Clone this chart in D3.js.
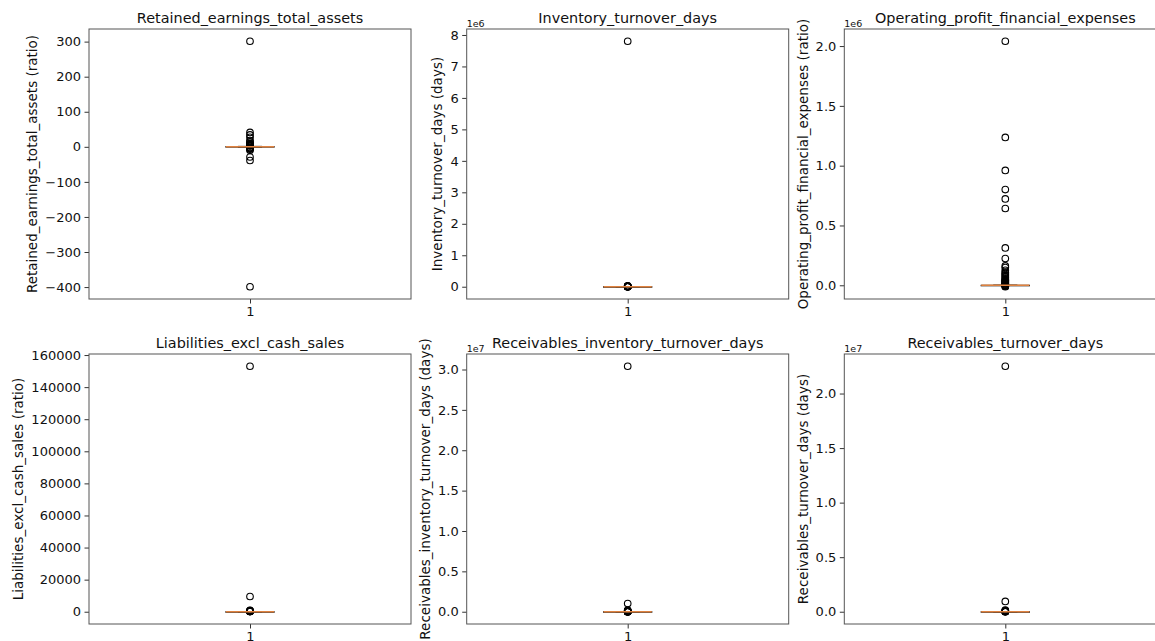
<!DOCTYPE html>
<html>
<head>
<meta charset="utf-8">
<script src="https://cdn.jsdelivr.net/npm/d3@7"></script>
<style>
  body { margin: 0; background: #fff; }
  text { font-family: "DejaVu Sans", sans-serif; fill: #111; }
</style>
</head>
<body>
<svg id="chart" width="1155" height="641"></svg>
<script>
// one entry per panel, left-to-right, top-to-bottom
const titles = ["Retained_earnings_total_assets", "Inventory_turnover_days", "Operating_profit_financial_expenses",
                "Liabilities_excl_cash_sales", "Receivables_inventory_turnover_days", "Receivables_turnover_days"];
const units = ["ratio", "days", "ratio", "ratio", "days", "days"];
const offsetLabels = ["", "1e6", "1e6", "", "1e7", "1e7"];

// box stats (q1, median, q3, whisker low, whisker high)
const q1s      = [0.1, 40, 2, 0.5, 60, 30];
const medians  = [0.3, 80, 5, 1, 120, 70];
const q3s      = [0.6, 150, 12, 2, 250, 130];
const whiskLo  = [-0.6, 0, -10, 0, 0, 0];
const whiskHi  = [1.3, 310, 27, 4.2, 530, 280];

const fliers = [
  [301, 41, 34, 27, 18, 14, 10, 8, 6, 5, 4, 3, 2.5, -2, -3.5, -5, -7, -10, -29, -39, -399],
  [7.8e6, 30000, 22000, 15000, 11000, 8000, 6000, 5000, 4000, 3000, 2000, 1500, 1000],
  [2.04e6, 1.236e6, 0.96e6, 0.80e6, 0.722e6, 0.642e6, 0.312e6, 0.223e6, 0.162e6, 0.148e6,
   0.125e6, 0.11e6, 0.1e6, 0.09e6, 0.08e6, 0.07e6, 0.06e6, 0.05e6, 0.045e6, 0.04e6, 0.035e6,
   0.03e6, 0.025e6, 0.02e6, 0.015e6, 0.01e6, 0.005e6, 2000, 500, -3000, -8000, -12000],
  [153000, 9500, 900, 700, 500, 400, 300, 250, 200, 150, 120],
  [3.04e7, 1.02e6, 2e5, 1.2e5, 8e4, 5e4, 3e4, 2e4, 1.5e4, 1e4, 8000, 6000, 4000, 3000],
  [2.25e7, 9.4e5, 1.5e5, 1e5, 6e4, 4e4, 2e4, 1e4, 5000, 3000]
];

const tickValues = [
  [-400, -300, -200, -100, 0, 100, 200, 300],
  [0, 1e6, 2e6, 3e6, 4e6, 5e6, 6e6, 7e6, 8e6],
  [0, 0.5e6, 1e6, 1.5e6, 2e6],
  [0, 20000, 40000, 60000, 80000, 100000, 120000, 140000, 160000],
  [0, 0.5e7, 1e7, 1.5e7, 2e7, 2.5e7, 3e7],
  [0, 0.5e7, 1e7, 1.5e7, 2e7]
];
const tickLabels = [
  ["\u2212400", "\u2212300", "\u2212200", "\u2212100", "0", "100", "200", "300"],
  ["0", "1", "2", "3", "4", "5", "6", "7", "8"],
  ["0.0", "0.5", "1.0", "1.5", "2.0"],
  ["0", "20000", "40000", "60000", "80000", "100000", "120000", "140000", "160000"],
  ["0.0", "0.5", "1.0", "1.5", "2.0", "2.5", "3.0"],
  ["0.0", "0.5", "1.0", "1.5", "2.0"]
];

const colX = [89, 466.7, 844.3], rowY = [29, 354];
const w = 322, h = 270;
const boxWidth = 0.15;

const svg = d3.select("#chart");

titles.forEach((title, i) => {
  const left = colX[i % 3], top = rowY[Math.floor(i / 3)];
  const g = svg.append("g").attr("transform", `translate(${left},${top})`);

  const all = fliers[i].concat([whiskLo[i], whiskHi[i]]);
  const lo = d3.min(all), hi = d3.max(all), pad = (hi - lo) * 0.05;

  const x = d3.scaleLinear().domain([0.5, 1.5]).range([0, w]);
  const y = d3.scaleLinear().domain([lo - pad, hi + pad]).range([h, 0]);

  // y axis
  const yAx = g.append("g")
    .call(d3.axisLeft(y).tickValues(tickValues[i])
      .tickFormat((d, k) => tickLabels[i][k])
      .tickSize(4.5).tickPadding(3.5).tickSizeOuter(0));
  yAx.select(".domain").remove();
  yAx.selectAll(".tick line").attr("stroke", "#333");
  yAx.selectAll(".tick text").attr("font-size", 13).attr("fill", "#111");

  // x axis
  const xAx = g.append("g").attr("transform", `translate(0,${h})`)
    .call(d3.axisBottom(x).tickValues([1]).tickFormat(d3.format("d"))
      .tickSize(4.5).tickPadding(3.5).tickSizeOuter(0));
  xAx.select(".domain").remove();
  xAx.selectAll(".tick line").attr("stroke", "#333");
  xAx.selectAll(".tick text").attr("font-size", 13).attr("fill", "#111");

  // whiskers + caps
  const cx = x(1), capHalf = (x(1 + boxWidth / 4) - x(1));
  g.append("line").attr("x1", cx).attr("x2", cx)
    .attr("y1", y(q1s[i])).attr("y2", y(whiskLo[i])).attr("stroke", "#000");
  g.append("line").attr("x1", cx).attr("x2", cx)
    .attr("y1", y(q3s[i])).attr("y2", y(whiskHi[i])).attr("stroke", "#000");
  [whiskLo[i], whiskHi[i]].forEach(v => {
    g.append("line").attr("x1", cx - capHalf).attr("x2", cx + capHalf)
      .attr("y1", y(v)).attr("y2", y(v)).attr("stroke", "#000");
  });

  // box
  const bx0 = x(1 - boxWidth / 2), bx1 = x(1 + boxWidth / 2);
  g.append("rect").attr("x", bx0).attr("width", bx1 - bx0)
    .attr("y", y(q3s[i])).attr("height", Math.max(0.5, y(q1s[i]) - y(q3s[i])))
    .attr("fill", "none").attr("stroke", "#000");

  // fliers
  g.append("g").selectAll("circle").data(fliers[i]).join("circle")
    .attr("cx", cx).attr("cy", d => y(d)).attr("r", 3.3)
    .attr("fill", "none").attr("stroke", "#000").attr("stroke-width", 1.1);

  // median
  g.append("line").attr("x1", bx0).attr("x2", bx1)
    .attr("y1", y(medians[i])).attr("y2", y(medians[i]))
    .attr("stroke", "#e0823f").attr("stroke-width", 1.6);

  // frame
  g.append("rect").attr("width", w).attr("height", h)
    .attr("fill", "none").attr("stroke", "#555").attr("stroke-width", 1);

  // title
  g.append("text").attr("x", w / 2).attr("y", -6.5).attr("text-anchor", "middle")
    .attr("font-size", 14.4).text(title);

  // offset text
  if (offsetLabels[i])
    g.append("text").attr("x", 0).attr("y", -2.5).attr("font-size", 9.5).text(offsetLabels[i]);

  // y label, placed left of the tick labels
  const bb = yAx.node().getBBox();
  g.append("text")
    .attr("transform", `translate(${bb.x - 8},${h / 2}) rotate(-90)`)
    .attr("text-anchor", "middle").attr("font-size", 13.5)
    .text(`${title} (${units[i]})`);
});
</script>
</body>
</html>
